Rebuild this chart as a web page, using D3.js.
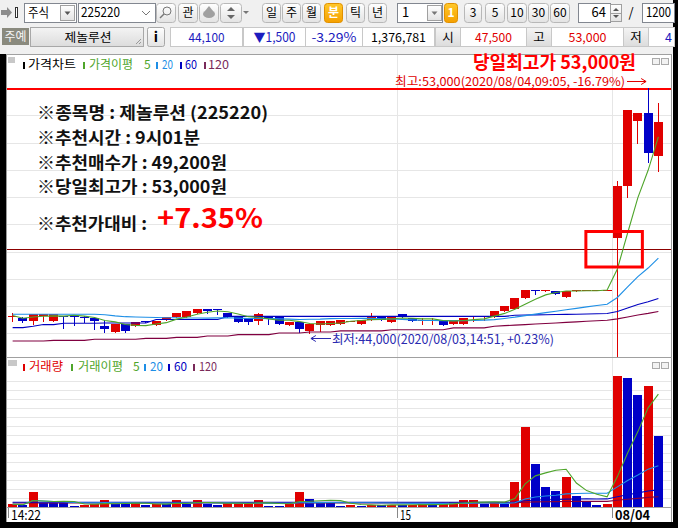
<!DOCTYPE html>
<html><head><meta charset="utf-8">
<script src="https://cdnjs.cloudflare.com/ajax/libs/d3/7.8.5/d3.min.js"></script>
<style>
html,body{margin:0;padding:0;background:#000;}
svg{display:block;}
text{font-family:"Noto Sans CJK KR","Noto Sans",sans-serif;}
</style></head><body>
<svg id="chart" width="678" height="528"></svg>
<script>
// ---------------- DATA ----------------
const times = ["14:22","14:23","14:24","14:25","14:26","14:27","14:28","14:29","14:30","14:31",
"14:32","14:33","14:34","14:35","14:36","14:37","14:38","14:39","14:40","14:41",
"14:42","14:43","14:44","14:45","14:46","14:47","14:48","14:49","14:50","14:51",
"14:52","14:53","14:54","14:55","14:56","14:57","14:58","14:59","15:00","15:01",
"15:02","15:03","15:04","15:05","15:06","15:07","15:08","15:09","15:10","15:11",
"15:12","15:13","15:14","15:15","15:16","15:17","15:18","15:19","15:30","09:01",
"09:02","09:03","09:04","09:05"];
const opens = [44600,44550,44450,44650,44450,44650,44650,44600,44550,44250,
44050,44350,44250,44450,44300,44500,44600,44600,44750,44900,
44900,44750,44600,44550,44450,44600,44600,44300,44400,44100,
44300,44300,44350,44450,44350,44500,44600,44400,44700,44550,
44450,44450,44450,44350,44350,44600,44600,44600,44800,44900,
45300,45600,45550,45550,45350,45550,45600,45600,45600,47500,
49400,51800,52100,50500];
const highs = [44750,44600,44700,44700,44700,44650,44650,44650,44550,44500,
44350,44350,44400,44450,44450,44600,44750,44800,44900,44900,
44900,44750,44600,44550,44750,44600,44600,44400,44400,44350,
44450,44450,44500,44450,44500,44750,44600,44600,44700,44550,
44550,44550,44450,44500,44550,44650,44650,44800,45000,45300,
45600,45600,45600,45550,45550,45600,45600,45600,45600,49600,
52200,52100,53000,52450];
const lows = [44450,44400,44350,44450,44450,44200,44300,44400,44150,44050,
44050,44050,44250,44400,44300,44500,44600,44600,44750,44750,
44700,44600,44400,44350,44350,44350,44350,44300,44050,44000,
44100,44300,44350,44450,44350,44500,44500,44400,44600,44450,
44350,44350,44300,44350,44350,44450,44500,44600,44800,44900,
45300,45450,45550,45450,45350,45550,45600,45600,45600,47100,
49000,51000,50300,49950];
const closes = [44650,44450,44700,44700,44700,44600,44600,44550,44450,44150,
44350,44100,44400,44400,44450,44600,44750,44800,44900,44800,
44850,44600,44400,44400,44700,44550,44350,44400,44150,44350,
44450,44450,44500,44450,44500,44600,44500,44600,44600,44450,
44500,44500,44300,44500,44550,44650,44650,44800,45000,45300,
45600,45550,45600,45450,45550,45600,45600,45600,45600,49400,
52200,52100,50600,51750];
const volumes = [6000,4400,33200,8900,8400,8000,2200,5300,6600,14800,
6600,6200,8900,4400,6600,6200,14800,6600,14800,6600,
4400,8900,9300,9700,14800,3300,2200,6600,33200,17700,
8900,8400,2200,4400,3300,5500,4400,5500,4400,5500,
6600,4400,6600,11100,14800,15100,6600,11100,6600,54700,
177100,95200,44300,35400,66400,24400,11100,4400,6600,290000,
285600,248000,267900,157200];
const priceMA20 = [44700,44700,44700,44700,44700,44700,44700,44700,44700,44680,
44640,44610,44600,44590,44580,44570,44570,44560,44560,44555,
44565,44573,44558,44543,44543,44540,44528,44520,44505,44515,
44520,44538,44543,44545,44548,44548,44535,44525,44510,44493,
44475,44470,44465,44470,44463,44468,44483,44503,44545,44593,
44650,44705,44760,44810,44863,44913,44968,45018,45068,45315,
45700,46080,46395,46758];
const priceMA60 = [44210,44210,44260,44320,44320,44370,44370,44370,44370,44380,
44380,44380,44380,44380,44505,44505,44505,44505,44505,44505,
44505,44620,44620,44620,44620,44620,44620,44620,44620,44620,
44620,44620,44620,44620,44620,44620,44620,44620,44620,44620,
44620,44620,44620,44620,44620,44620,44620,44620,44620,44660,
44670,44675,44680,44690,44695,44700,44710,44715,44725,44800,
44930,45055,45155,45280];
const priceMA120 = [43720,43720,43720,43720,43740,43740,43740,43740,43780,43780,
43780,43780,43780,43815,43815,43815,43850,43850,43850,43900,
43900,43900,43950,43950,43950,43950,44010,44010,44010,44050,
44050,44050,44090,44090,44090,44090,44090,44130,44130,44130,
44130,44130,44130,44200,44200,44200,44200,44260,44280,44300,
44320,44340,44360,44380,44400,44420,44440,44460,44480,44530,
44600,44670,44730,44800];
const volMA60 = [10400,10400,10400,10400,10400,10400,10400,10400,10400,10400,
10400,10400,10400,10400,10400,10400,10400,10400,10400,10400,
10400,10400,10400,10400,10400,10400,10400,10400,10400,10400,
10400,10400,10400,10400,10400,10400,10400,10400,10400,10400,
10400,10400,10400,10400,10400,10400,10400,10400,10400,11200,
14000,15450,16050,16500,17500,17770,17900,17850,17900,22600,
27200,31200,35500,38000];
const volMA120 = [8800,8800,8800,8800,8800,8800,8800,8800,8800,8800,
8800,8800,8800,8800,8800,8800,8800,8800,8800,8800,
8800,8800,8800,8800,8800,8800,8800,8800,8800,8800,
8800,8800,8800,8800,8800,8800,8800,8800,8800,8800,
8800,8800,8800,8800,8800,8800,8800,8800,8800,9200,
10600,11300,11600,11800,12300,12400,12400,12400,12400,14800,
17100,19100,21300,22600];
const axisTicks = ["14:22","15:00","09:01"];
const axisTickLabels = ["14:22","15","08/04"];
const highPrice = 53000, lowPrice = 44000, crossPrice = 47100;
const highIndex = 62, lowIndex = 29, recIndex = 59;
const infoLines = ["※종목명 : 제놀루션 (225220)","※추천시간 : 9시01분","※추천매수가 : 49,200원","※당일최고가 : 53,000원"];
const infoLast = "※추천가대비 : ", infoPct = "+7.35%";

// ---------------- COLORS ----------------
const RED="#e00000", BLUE="#0000c8", C5="#4ea52a", C20="#1e8fe6", C60="#0000c0", C120="#800040";

// ---------------- HELPERS ----------------
const svg = d3.select("#chart");
const defs = svg.append("defs");
function grad(id,c1,c2){const g=defs.append("linearGradient").attr("id",id).attr("x1",0).attr("y1",0).attr("x2",0).attr("y2",1);
 g.append("stop").attr("offset","0%").attr("stop-color",c1);g.append("stop").attr("offset","100%").attr("stop-color",c2);}
grad("btn","#ffffff","#e3e3e3"); grad("orange","#ffc82a","#f5a000"); grad("grey","#f4f4f4","#dcdcdc");
function R(x,y,w,h,o={}){return svg.append("rect").attr("x",x).attr("y",y).attr("width",w).attr("height",h)
 .attr("fill",o.fill||"none").attr("stroke",o.stroke||"none").attr("stroke-width",o.sw||1).attr("rx",o.rx||0)
 .attr("shape-rendering",o.rx?null:"crispEdges");}
function T(x,y,s,o={}){const t=svg.append("text").attr("x",x).attr("y",y).text(s).attr("font-size",o.size||12)
 .attr("fill",o.fill||"#000").attr("text-anchor",o.anchor||"start").attr("font-weight",o.weight||"normal");
 if(o.family)t.attr("font-family",o.family);
 if(o.len)t.attr("textLength",o.len).attr("lengthAdjust","spacingAndGlyphs");return t;}
function L(x1,y1,x2,y2,c,w=1,crisp=true){return svg.append("line").attr("x1",x1).attr("y1",y1).attr("x2",x2).attr("y2",y2)
 .attr("stroke",c).attr("stroke-width",w).attr("shape-rendering",crisp?"crispEdges":null);}
function P(d,fill,stroke){return svg.append("path").attr("d",d).attr("fill",fill||"none").attr("stroke",stroke||"none");}
function btn(x,w,label,o={}){R(x+.5,3.5,w,19,{fill:o.on?"url(#orange)":"url(#btn)",stroke:o.on?"#e09000":"#b8b8b8",rx:3});
 T(x+w/2+.5,17,label,{anchor:"middle",size:12,fill:o.on?"#fff":"#000",weight:o.on?"bold":"normal"});}

// ---------------- BACKGROUND / TOOLBAR ----------------
R(0,0,678,528,{fill:"#000"});
R(0,0,673,54,{fill:"#f0f0f0"});
// row 1
P("M1,10 H7 V7 L12,12.5 L7,18 V15 H1 Z","#8c8c8c");
R(15.5,7.5,2,10,{fill:"#fff",stroke:"#333"});
R(24.5,3.5,52,19,{fill:"#fff",stroke:"#828790"}); T(28,17,"주식",{size:13,len:21});
R(60.5,5.5,14,15,{fill:"url(#btn)",stroke:"#a0a0a0"}); P("M64.5,11.5 L70.5,11.5 L67.5,15 Z","#555");
R(78.5,3.5,77,19,{fill:"#fff",stroke:"#828790"}); T(81,17,"225220",{size:13,len:39});
P("M142,11 L146,15 L150,11","none","#777");
R(156.5,3.5,19,19,{fill:"url(#btn)",stroke:"#b8b8b8",rx:3});
svg.append("circle").attr("cx",167).attr("cy",11).attr("r",4).attr("fill","none").attr("stroke","#777");
L(164,14,160,18,"#777",1.5,false);
btn(178,19,"관");
R(199.5,3.5,19,19,{fill:"url(#btn)",stroke:"#b8b8b8",rx:3});
svg.append("ellipse").attr("cx",209).attr("cy",14).attr("rx",6).attr("ry",4).attr("fill","#a0a0a0");
P("M205,11 L209,6 L213,11 Z","#a0a0a0");
R(220.5,3.5,21,19,{fill:"url(#btn)",stroke:"#b8b8b8",rx:3});
P("M227,11 L231,7 L235,11 Z","#666"); P("M227,15 L235,15 L231,19 Z","#666");
P("M243,11 L249,11 L246,14 Z","#777");
[["일",262],["주",282],["월",302],["분",324],["틱",346],["년",368]].forEach(([s,x])=>btn(x,18,s,{on:s==="분"}));
R(397.5,3.5,45,19,{fill:"#fff",stroke:"#828790"}); T(402,17,"1",{size:13});
R(427.5,5.5,14,15,{fill:"url(#btn)",stroke:"#a0a0a0"}); P("M431.5,11.5 L437.5,11.5 L434.5,15 Z","#777");
btn(444,13,"1",{on:true});
[["3",464,17],["5",485,19],["10",507,19],["30",528,20],["60",550,19]].forEach(([s,x,w])=>btn(x,w,s));
R(578.5,3.5,32,19,{fill:"#fff",stroke:"#828790"}); T(606,17,"64",{anchor:"end",size:13});
R(610.5,4.5,11,17,{fill:"url(#btn)",stroke:"#a0a0a0"}); L(611,13,621,13,"#a0a0a0");
P("M613,11 L616,8 L619,11 Z","#555"); P("M613,15 L619,15 L616,18 Z","#555");
T(631,17,"/",{size:13,anchor:"middle"});
R(642.5,3.5,32,19,{fill:"#fff",stroke:"#828790"}); T(646,17,"1200",{size:13,len:25});
// row 2
const VBLUE="#1c1cbe";
R(2,28,27,17,{fill:"#8a8a7e"}); T(15.5,41,"주예",{anchor:"middle",fill:"#f4f4f4",size:12,len:22});
R(30.5,27.5,113,19,{fill:"url(#grey)",stroke:"#a8a8a8"}); T(88,41.5,"제놀루션",{anchor:"middle",size:12.5,len:47});
P("M136,44 L141,39 M139,44 L141,42","none","#999");
R(147.5,27.5,17,19,{fill:"url(#btn)",stroke:"#a8a8a8",rx:2}); T(156,42,"i",{anchor:"middle",weight:"bold",size:14});
[[170,72,"44,100",VBLUE,36],[243,62,"▼1,500",VBLUE,42],[305,57,"-3.29%",VBLUE,45],[362,72,"1,376,781","#000",55],
 [460,66,"47,500",RED,37],[551,72,"53,000",RED,38]].forEach(([x,w,s,c,len])=>{
 R(x+.5,27.5,w,19,{fill:"#fff",stroke:"#c8c8c8"}); T(x+w/2+.5,41.5,s,{anchor:"middle",fill:c,size:12.5,len:len});});
[[435,"시"],[526,"고"],[623,"저"]].forEach(([x,s])=>{R(x+.5,27.5,25,19,{fill:"url(#grey)",stroke:"#c8c8c8"});
 T(x+13,41.5,s,{anchor:"middle",size:12.5});});
R(648.5,27.5,26,19,{fill:"#fff",stroke:"#c8c8c8"}); T(665,41.5,"4",{fill:VBLUE,size:12.5});

// ---------------- CHART AREA ----------------
R(6,54,667,468,{fill:"#fff"});

const x = d3.scaleBand().domain(times).range([7.5,663.5]);
const cx = t => x(t) + x.bandwidth()/2;
const bw = Math.round(x.bandwidth()*0.88);
const yP = d3.scaleLinear().domain([lowPrice,highPrice]).range([333.3,88]);
const yV = d3.scaleLinear().domain([0,300000]).range([507,371.5]);
const sma = (arr,n)=>arr.map((_,i)=>d3.mean(arr.slice(Math.max(0,i-n+1),i+1)));

// grids
const GRID="#e6e6e6";
yP.ticks(9).filter(v=>v<highPrice).forEach(v=>{const yy=Math.round(yP(v))+.5; L(7,yy,671,yy,GRID);});
yV.ticks(10).filter(v=>v>0&&v<300000).forEach(v=>{const yy=Math.round(yV(v))+.5; L(7,yy,671,yy,GRID);});
axisTicks.slice(1).forEach(t=>{const xx=Math.round(x(t))+.5; L(xx,54,xx,357,GRID); L(xx,358,xx,507,GRID);});

// high line
R(7,Math.round(yP(highPrice))-0.5,664,2.5,{fill:"#ff0000"});

// crosshair
const yc = Math.round(yP(crossPrice))+.5;
L(7,yc,671,yc,"#8c0000");
const xr = Math.floor(cx(times[recIndex]))+.5;
L(xr,yc,xr,357,RED);

// candles
const candles = svg.append("g");
times.forEach((t,i)=>{
  const up = closes[i]>=opens[i], col = up?RED:BLUE;
  const xc = Math.floor(cx(t))+.5;
  candles.append("line").attr("x1",xc).attr("x2",xc).attr("y1",Math.round(yP(highs[i]))).attr("y2",Math.round(yP(lows[i]))+1)
    .attr("stroke",col).attr("shape-rendering","crispEdges");
  const top = Math.round(yP(Math.max(opens[i],closes[i]))), bot = Math.round(yP(Math.min(opens[i],closes[i])));
  candles.append("rect").attr("x",Math.round(cx(t)-bw/2)).attr("y",top).attr("width",bw).attr("height",Math.max(1,bot-top))
    .attr("fill",col).attr("shape-rendering","crispEdges");
});

// price MAs
const lineP = d3.line().x((d,i)=>cx(times[i])).y(d=>yP(d));
[[priceMA120,C120],[priceMA60,C60],[priceMA20,C20],[sma(closes,5),C5]].forEach(([arr,c])=>{
  svg.append("path").attr("d",lineP(arr)).attr("fill","none").attr("stroke",c).attr("stroke-width",1.1);});

// volume bars
times.forEach((t,i)=>{
  const col = (i===0||volumes[i]>volumes[i-1])?RED:BLUE;
  const yy = Math.round(yV(volumes[i]));
  R(Math.round(cx(t)-bw/2),yy,bw,Math.max(1,507-yy),{fill:col});
});
const lineV = d3.line().x((d,i)=>cx(times[i])).y(d=>yV(d));
[[volMA120,C120],[volMA60,C60],[sma(volumes,20),C20],[sma(volumes,5),C5]].forEach(([arr,c])=>{
  svg.append("path").attr("d",lineV(arr)).attr("fill","none").attr("stroke",c).attr("stroke-width",1.1);});

// panel borders
L(6.5,54,6.5,522,"#9a9a9a"); L(671.5,54,671.5,522,"#9a9a9a");
L(6,54.5,672,54.5,"#a0a0a0"); L(6,357.5,672,357.5,"#a0a0a0"); L(6,507.5,672,507.5,"#a0a0a0");

// x axis ticks & labels
axisTicks.forEach((t,k)=>{
  const xx = Math.round(x(t))+.5;
  L(xx,508,xx,518,"#888");
  const lens=[30,11,35];
  T(xx+2.5,520,axisTickLabels[k],{size:13.5,len:lens[k],weight:k===2?"bold":"normal"});
});

// panel headers
R(8,57,7,6,{fill:"#c8c8c8"}); R(8,360,9,6,{fill:"#c8c8c8"});
[[652,58],[661,58],[652,362],[661,362]].forEach(([a,b])=>R(a+.5,b+.5,7,6,{fill:"#f2f2f2",stroke:"#aaa"}));
function header(y,items){items.forEach(([bx,c,tx,s,len,tc])=>{R(bx,y-7,2,7,{fill:c}); T(tx,y,s,{fill:tc||c,size:12,len:len});});}
header(69,[[23,"#000",28,"가격차트",48],[83,C5,89,"가격이평",44],[156,C20,162,"20",11],[180,C60,185,"60",12],[204,"#7a2a5a",208,"120",21]]);
T(144,69,"5",{fill:C5,size:12});
header(371,[[23,RED,29,"거래량",34],[71,C5,78,"거래이평",45],[144,C20,150,"20",13],[168,C60,174,"60",13],[193,"#7a2a5a",199,"120",18]]);
T(133,371,"5",{fill:C5,size:12});

// high / low annotations
T(473,69,"당일최고가 53,000원",{size:18.5,weight:"bold",fill:"#ff0000",len:163});
T(625,86,"최고:53,000(2020/08/04,09:05, -16.79%)",{anchor:"end",size:12,fill:"#e00000",len:230});
const ax2 = cx(times[highIndex])-2;
L(627,81.5,ax2,81.5,"#e00000",1); P(`M${ax2-5},78.5 L${ax2},81.5 L${ax2-5},84.5`,"none","#e00000");
const lowX = cx(times[lowIndex])+1, lowY = Math.round(yP(lowPrice))+5.5;
L(lowX,lowY,lowX+20,lowY,"#2a2ab0",1); P(`M${lowX+5},${lowY-3} L${lowX},${lowY} L${lowX+5},${lowY+3}`,"none","#2a2ab0");
T(lowX+21,344,"최저:44,000(2020/08/03,14:51, +0.23%)",{size:12.5,fill:"#2a2ab0",len:222});

// info text
const infoY=[119,144,169,193], infoLen=[231,163,190,190];
infoLines.forEach((s,i)=>T(37,infoY[i],s,{size:17,weight:"bold",fill:"#111",len:infoLen[i]}));
T(37,230,infoLast,{size:17,weight:"bold",fill:"#111",len:110});
T(157,228,infoPct,{size:27,weight:"bold",fill:"#ff0000",len:106});

// recommendation box
const bx0 = cx(times[recIndex]);
svg.append("rect").attr("x",bx0-31.5).attr("y",yc-18).attr("width",56.5).attr("height",35.5)
  .attr("fill","none").attr("stroke","#ff0000").attr("stroke-width",3);
</script>
</body></html>
